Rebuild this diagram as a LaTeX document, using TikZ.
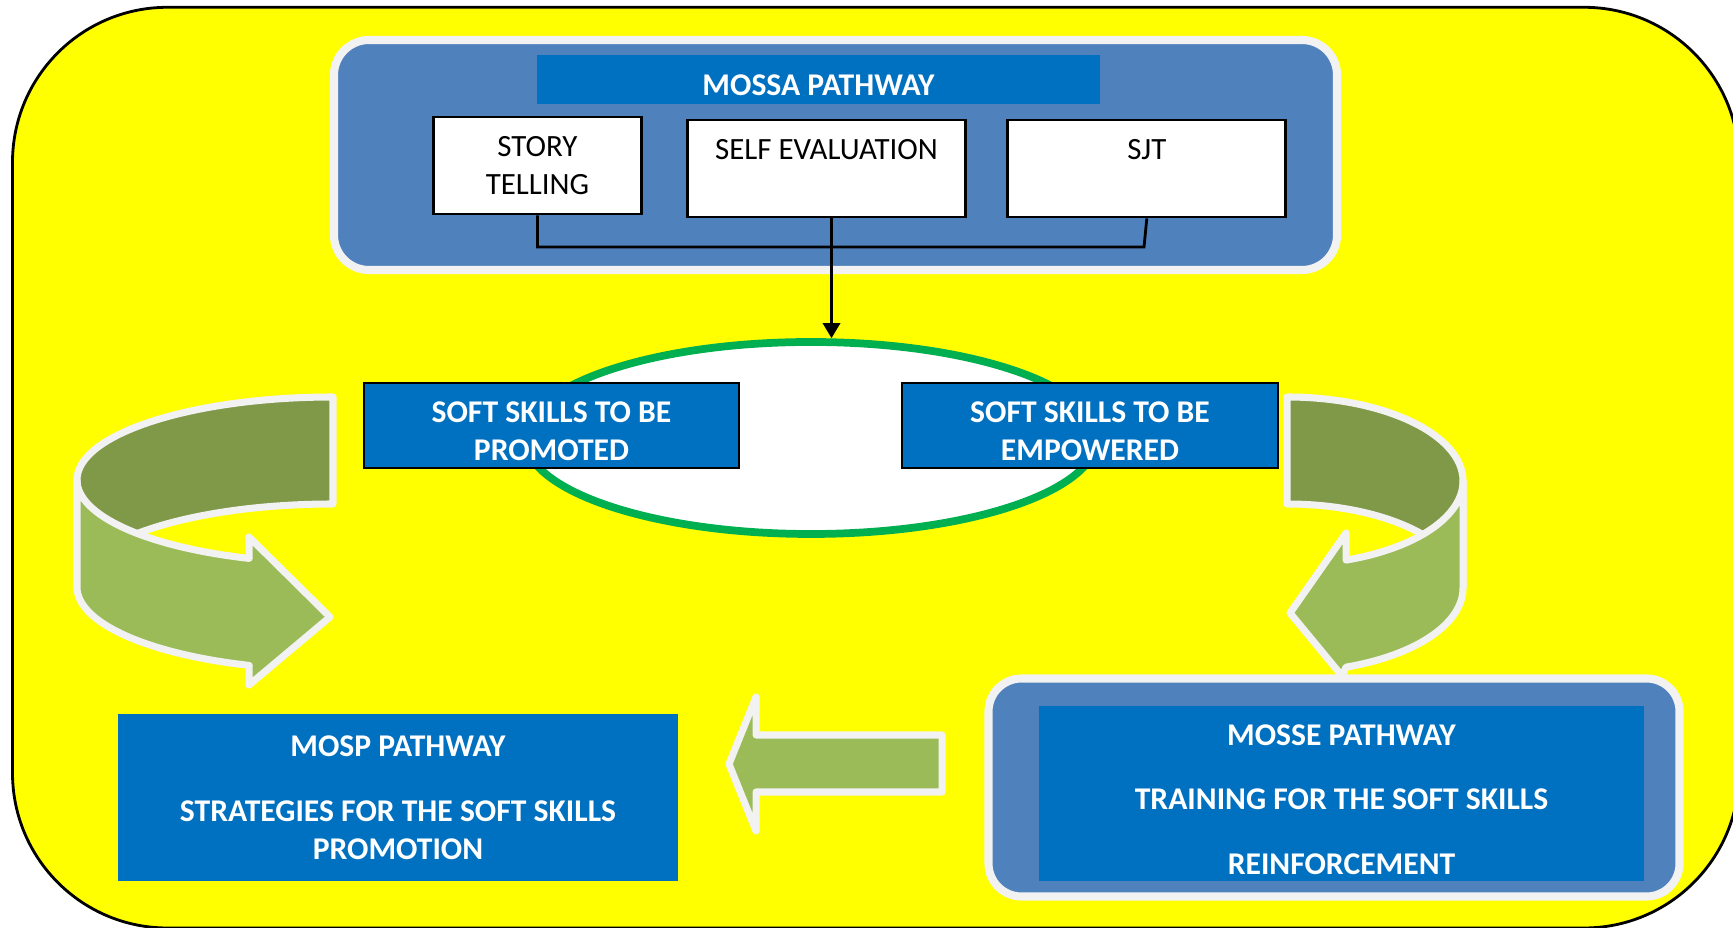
\documentclass[tikz,border=0pt]{standalone}
\usepackage{fontspec}
\setmainfont{Carlito}
\usetikzlibrary{shapes.geometric,arrows.meta,calc}
\definecolor{frameyellow}{HTML}{FFFF00}
\definecolor{groupblue}{HTML}{4F81BD}
\definecolor{darkblue}{HTML}{0070C0}
\definecolor{ribbonlight}{HTML}{9BBB59}
\definecolor{ribbondark}{HTML}{7F9948}
\definecolor{ovalgreen}{HTML}{00B050}
\definecolor{edgegray}{HTML}{F2F2F2}
\newcommand{\padtop}{\rule{0pt}{0.33cm}}
\begin{document}
\begin{tikzpicture}[
    groupbox/.style={draw=edgegray, fill=groupblue, line width=2.3pt, rounded corners=0.35cm, inner sep=0pt},
    toolbox/.style={draw=black, fill=white, line width=0.8pt, align=center, inner sep=0pt, font=\fontsize{8.8}{10.8}\selectfont},
    bluebox/.style={fill=darkblue, text=white, align=center, inner sep=0pt, font=\bfseries\fontsize{9}{10.8}\selectfont},
    ribbonback/.style={fill=ribbondark, draw=edgegray, line width=2pt, line join=round},
    ribbonfront/.style={fill=ribbonlight, draw=edgegray, line width=2pt, line join=round}
]
    \path[use as bounding box] (0,0) rectangle (17.33,9.27);
    \clip (0,0) rectangle (17.33,9.27);
    \fill[white] (0,0) rectangle (17.33,9.27);
    \draw[fill=frameyellow, rounded corners=1.55cm, line width=0.8pt] (0.125,-0.01) rectangle (17.39,9.197);

    % top pathway
    \node[groupbox, minimum width=10.03cm, minimum height=2.30cm] (mossa) at (8.355,7.72) {};
    \node[bluebox, minimum width=5.63cm, minimum height=0.49cm] (head) at (8.185,8.475) {\padtop MOSSA PATHWAY};
    \node[toolbox, minimum width=2.08cm, minimum height=0.97cm] (story) at (5.375,7.615) {STORY\\TELLING};
    \node[toolbox, minimum width=2.78cm, minimum height=0.97cm] (self) at (8.265,7.585) {SELF EVALUATION\\\phantom{X}};
    \node[toolbox, minimum width=2.78cm, minimum height=0.97cm] (sjt) at (11.468,7.585) {SJT\\\phantom{X}};
    \coordinate (join) at (11.44,6.80);
    \draw[line width=0.8pt] (story.south) |- (join) -- (sjt.south);

    % soft skills
    \node[draw=ovalgreen, fill=white, ellipse, line width=2.2pt, minimum width=5.72cm, minimum height=1.92cm, inner sep=0pt] (oval) at (8.11,4.89) {};
    \draw[-{Triangle[length=4.3pt,width=5pt]}, line width=0.6pt] ([xshift=0.05cm]self.south) -- ([xshift=0.05cm]self.south |- oval.north);
    \node[bluebox, draw=black, line width=0.8pt, minimum width=3.75cm, minimum height=0.85cm] (promoted) at (5.515,5.015) {\padtop SOFT SKILLS TO BE\\PROMOTED};
    \node[bluebox, draw=black, line width=0.8pt, minimum width=3.76cm, minimum height=0.85cm] (empowered) at (10.90,5.015) {\padtop SOFT SKILLS TO BE\\EMPOWERED};

    % curved arrows
    \coordinate (lc2) at (3.33,3.40);
    \draw[ribbonback] (0.77,4.47) arc[start angle=180, end angle=90, x radius=2.56, y radius=0.83] -- (3.33,4.23)
        arc[start angle=90, end angle=180, x radius=2.56, y radius=0.83] -- cycle;
    \draw[ribbonfront] (0.77,4.47) arc[start angle=180, end angle=250.9, x radius=2.56, y radius=0.83]
        -- (2.49,3.90) -- (3.30,3.10) -- (2.49,2.42) -- ($(lc2)+(250.9:2.56 and 0.83)$)
        arc[start angle=250.9, end angle=180, x radius=2.56, y radius=0.83] -- cycle;
    \coordinate (rc2) at (12.87,3.39);
    \draw[ribbonback] (12.87,5.30) arc[start angle=90, end angle=0, x radius=1.76, y radius=0.84] -- (14.63,3.39)
        arc[start angle=0, end angle=90, x radius=1.76, y radius=0.84] -- cycle;
    \draw[ribbonfront] (14.63,4.46) arc[start angle=360, end angle=289.6, x radius=1.76, y radius=0.84]
        -- (13.46,3.94) -- (12.90,3.14) -- (13.42,2.51) -- ($(rc2)+(289.6:1.76 and 0.84)$)
        arc[start angle=289.6, end angle=360, x radius=1.76, y radius=0.84] -- cycle;

    % bottom pathways
    \node[bluebox, minimum width=5.60cm, minimum height=1.67cm] (mosp) at (3.98,1.295) {MOSP PATHWAY\\[7.6pt]STRATEGIES FOR THE SOFT SKILLS\\PROMOTION};
    \draw[ribbonfront] (9.42,1.92) -- (7.56,1.92) -- (7.56,2.30) -- (7.29,1.63) -- (7.56,0.96) -- (7.56,1.35) -- (9.42,1.35) -- cycle;
    \node[groupbox, rounded corners=0.33cm, minimum width=6.91cm, minimum height=2.18cm] (mosseframe) at (13.34,1.395) {};
    \node[bluebox, minimum width=6.05cm, minimum height=1.75cm] (mosse) at (13.415,1.335) {\padtop MOSSE PATHWAY\\[7.5pt]TRAINING FOR THE SOFT SKILLS\\[7.5pt]REINFORCEMENT};
\end{tikzpicture}
\end{document}
